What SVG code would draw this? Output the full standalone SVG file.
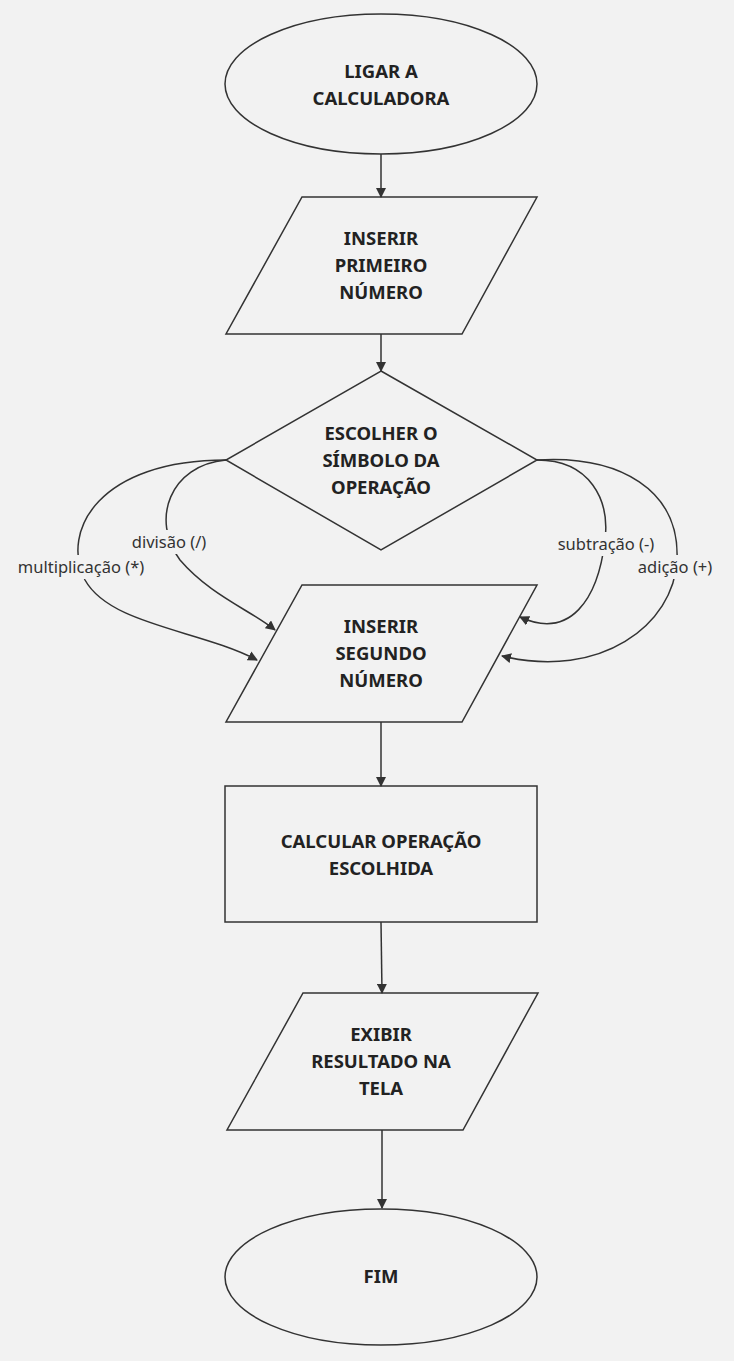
<svg xmlns="http://www.w3.org/2000/svg" width="734" height="1361" viewBox="0 0 734 1361">
<defs>
<marker id="ah" viewBox="0 0 10 10" refX="9" refY="5" markerWidth="10" markerHeight="10" markerUnits="userSpaceOnUse" orient="auto"><path d="M0,0 L10,5 L0,10 z" fill="#333"/></marker>
<style>
.n{fill:#f2f2f2;stroke:#333;stroke-width:1.5}
.t{font-family:"Noto Sans",sans-serif;font-weight:bold;font-size:18.5px;fill:#222;text-anchor:middle}
.c{fill:none;stroke:#333;stroke-width:1.5;marker-end:url(#ah)}
.l{font-family:"Noto Sans",sans-serif;font-size:16.5px;fill:#333;text-anchor:middle}
.b{fill:#f2f2f2}
</style>
</defs>
<rect width="734" height="1361" fill="#f2f2f2"/>
<g id="n1"><ellipse class="n" cx="381" cy="84" rx="156" ry="70"/><text class="t" x="381" y="78">LIGAR A</text><text class="t" x="381" y="105">CALCULADORA</text></g>
<g id="n2"><polygon class="n" points="302,197 537,197 462,334 226,334"/><text class="t" x="381" y="245">INSERIR</text><text class="t" x="381" y="272">PRIMEIRO</text><text class="t" x="381" y="299">NÚMERO</text></g>
<g id="n3"><polygon class="n" points="381,371 537,460 381,550 226,460"/><text class="t" x="381" y="440">ESCOLHER O</text><text class="t" x="381" y="467">SÍMBOLO DA</text><text class="t" x="381" y="494">OPERAÇÃO</text></g>
<g id="n4"><polygon class="n" points="302,585 537,585 462,722 226,722"/><text class="t" x="381" y="633">INSERIR</text><text class="t" x="381" y="660">SEGUNDO</text><text class="t" x="381" y="687">NÚMERO</text></g>
<g id="n5"><rect class="n" x="225" y="786" width="312" height="136"/><text class="t" x="381" y="848">CALCULAR OPERAÇÃO</text><text class="t" x="381" y="875">ESCOLHIDA</text></g>
<g id="n6"><polygon class="n" points="303,993 538,993 463,1130 227,1130"/><text class="t" x="381" y="1041">EXIBIR</text><text class="t" x="381" y="1068">RESULTADO NA</text><text class="t" x="381" y="1095">TELA</text></g>
<g id="n7"><ellipse class="n" cx="381" cy="1277" rx="156" ry="68"/><text class="t" x="381" y="1283">FIM</text></g>
<g id="edges">
<path class="c" d="M381,154 V197"/>
<path class="c" d="M381,334 V371"/>
<path class="c" d="M381,722 V786"/>
<path class="c" d="M381,922 L382,993"/>
<path class="c" d="M382,1130 V1208"/>
<path class="c" d="M226,460 C100,460 60,530 85,580 C110,625 200,630 257,660"/>
<path class="c" d="M226,460 C170,465 150,520 180,560 C210,595 250,610 275,630"/>
<path class="c" d="M537,460 C590,460 610,500 605,540 C598,600 570,640 520,617"/>
<path class="c" d="M537,460 C620,455 680,490 677,560 C674,625 600,680 502,656"/>
<rect class="b" x="13" y="555" width="136" height="24"/>
<rect class="b" x="128" y="530" width="82" height="24"/>
<rect class="b" x="554" y="532" width="104" height="24"/>
<rect class="b" x="634" y="555" width="82" height="24"/>
<text class="l" x="81" y="573">multiplicação (*)</text>
<text class="l" x="169" y="548">divisão (/)</text>
<text class="l" x="606" y="550">subtração (-)</text>
<text class="l" x="675" y="573">adição (+)</text>
</g>
</svg>
